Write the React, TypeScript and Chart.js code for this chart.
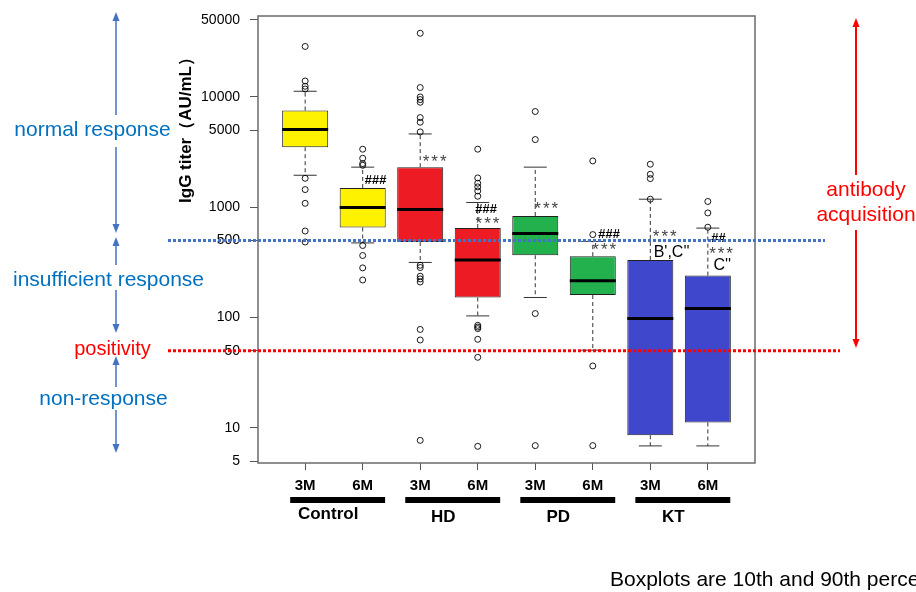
import React, { useEffect, useRef } from "react";
import { Chart, registerables } from "chart.js";

Chart.register(...registerables);

// ---------- data ----------
const timepoints = ["3M", "6M", "3M", "6M", "3M", "6M", "3M", "6M"];
const groups = ["Control", "HD", "PD", "KT"];
const groupColors = ["#FFF200", "#ED1C24", "#22B14C", "#3F48CC"];

const whiskerLow = [1950, 475, 316, 103.5, 152, 50.6, 6.86, 6.86];
const q1 = [3500, 655, 484, 152, 367, 160, 8.57, 11.2];
const medians = [5060, 993, 953, 333, 578, 216, 98, 121];
const q3 = [7530, 1497, 2310, 649, 834, 360, 333, 240];
const whiskerHigh = [11260, 2310, 4620, 1105, 2310, 490, 1183, 647];

const outliers: number[][] = [
  [28700, 13960, 12500, 11800, 1830, 1446, 1086, 609, 484],
  [3360, 2780, 2490, 2400, 450, 365, 282, 219],
  [37800, 12170, 10000, 9470, 8950, 6500, 5900, 4820, 298, 284, 237, 224, 210, 78, 62.6, 7.7],
  [3360, 1845, 1650, 1530, 1405, 1259, 85, 82, 79.4, 63.5, 43.6, 6.8],
  [7380, 4110, 108.7, 6.9],
  [2630, 565, 36.4, 6.9],
  [2455, 1990, 1820, 1183],
  [1128, 888, 659],
];

const yTicks = [5, 10, 50, 100, 500, 1000, 5000, 10000, 50000];
const insufficientThreshold = 500;
const positivityThreshold = 50;

// significance marks: anchored at (category position, titer)
const sigMarks = [
  { x: 2.22, y: 1760, text: "###", kind: "hash" },
  { x: 3.25, y: 2720, text: "***", kind: "star" },
  { x: 4.14, y: 953, text: "###", kind: "hash" },
  { x: 4.17, y: 752, text: "***", kind: "star" },
  { x: 5.19, y: 1028, text: "***", kind: "star" },
  { x: 6.28, y: 565, text: "###", kind: "hash" },
  { x: 6.2, y: 437, text: "***", kind: "star" },
  { x: 7.25, y: 565, text: "***", kind: "star" },
  { x: 7.37, y: 388, text: "B',C''", kind: "letter" },
  { x: 8.18, y: 520, text: "##", kind: "hash" },
  { x: 8.23, y: 399, text: "***", kind: "star" },
  { x: 8.25, y: 298, text: "C''", kind: "letter" },
];

const FONT = "'Liberation Sans', Arial, sans-serif";

const boxColors = timepoints.map((_, i) => groupColors[Math.floor(i / 2)]);

function vArrow(
  ctx: CanvasRenderingContext2D,
  x: number,
  yTop: number,
  yBot: number,
  gap: [number, number],
  color: string,
  lw: number
) {
  const hw = 3.5;
  const hh = 9;
  ctx.save();
  ctx.strokeStyle = color;
  ctx.fillStyle = color;
  ctx.lineWidth = lw;
  ctx.beginPath();
  ctx.moveTo(x, yTop + hh - 1);
  ctx.lineTo(x, gap[0]);
  ctx.moveTo(x, gap[1]);
  ctx.lineTo(x, yBot - hh + 1);
  ctx.stroke();
  ctx.beginPath();
  ctx.moveTo(x, yTop);
  ctx.lineTo(x - hw, yTop + hh);
  ctx.lineTo(x + hw, yTop + hh);
  ctx.closePath();
  ctx.fill();
  ctx.beginPath();
  ctx.moveTo(x, yBot);
  ctx.lineTo(x - hw, yBot - hh);
  ctx.lineTo(x + hw, yBot - hh);
  ctx.closePath();
  ctx.fill();
  ctx.restore();
}

const boxPlugin = {
  id: "boxplotDecor",
  beforeDatasetsDraw(chart: any) {
    const { ctx, scales } = chart;
    const x = scales.x;
    const y = scales.y;
    const meta = chart.getDatasetMeta(0);
    ctx.save();
    for (let i = 0; i < q1.length; i++) {
      const bar = meta.data[i];
      const cx = x.getPixelForValue(i + 1);
      const half = bar.width / 4;
      const yHi = y.getPixelForValue(whiskerHigh[i]);
      const yLo = y.getPixelForValue(whiskerLow[i]);
      const yQ3 = y.getPixelForValue(q3[i]);
      const yQ1 = y.getPixelForValue(q1[i]);
      ctx.strokeStyle = "#333";
      ctx.lineWidth = 1;
      ctx.setLineDash([4, 3]);
      ctx.beginPath();
      ctx.moveTo(cx, yQ3);
      ctx.lineTo(cx, yHi);
      ctx.moveTo(cx, yQ1);
      ctx.lineTo(cx, yLo);
      ctx.stroke();
      ctx.setLineDash([]);
      ctx.beginPath();
      ctx.moveTo(cx - half, yHi);
      ctx.lineTo(cx + half, yHi);
      ctx.moveTo(cx - half, yLo);
      ctx.lineTo(cx + half, yLo);
      ctx.stroke();
    }
    ctx.restore();
  },
  afterDatasetDraw(chart: any, args: any) {
    if (args.index !== 0) return;
    const { ctx, scales } = chart;
    const y = scales.y;
    const meta = chart.getDatasetMeta(0);
    ctx.save();
    ctx.strokeStyle = "#000";
    ctx.lineWidth = 3;
    for (let i = 0; i < medians.length; i++) {
      const bar = meta.data[i];
      const ym = y.getPixelForValue(medians[i]);
      ctx.beginPath();
      ctx.moveTo(bar.x - bar.width / 2, ym);
      ctx.lineTo(bar.x + bar.width / 2, ym);
      ctx.stroke();
    }
    ctx.restore();
  },
  afterDraw(chart: any) {
    const { ctx, chartArea, scales } = chart;
    const x = scales.x;
    const y = scales.y;
    ctx.save();

    // plot frame
    ctx.strokeStyle = "#6b6b6b";
    ctx.lineWidth = 1.5;
    ctx.strokeRect(chartArea.left, chartArea.top, chartArea.right - chartArea.left, chartArea.bottom - chartArea.top);

    // significance marks
    ctx.textAlign = "center";
    ctx.textBaseline = "middle";
    for (const m of sigMarks) {
      const px = x.getPixelForValue(m.x);
      const py = y.getPixelForValue(m.y);
      if (m.kind === "hash") {
        ctx.font = `italic bold 13px ${FONT}`;
        ctx.fillStyle = "#000";
        (ctx as any).letterSpacing = "0px";
        ctx.fillText(m.text, px, py);
      } else if (m.kind === "star") {
        ctx.font = `17px ${FONT}`;
        ctx.fillStyle = "#444";
        (ctx as any).letterSpacing = "2px";
        ctx.fillText(m.text, px + 1, py + 3);
        (ctx as any).letterSpacing = "0px";
      } else {
        ctx.font = `16px ${FONT}`;
        ctx.fillStyle = "#000";
        (ctx as any).letterSpacing = "0px";
        ctx.fillText(m.text, px, py);
      }
    }

    // threshold dotted lines
    ctx.lineWidth = 3;
    ctx.setLineDash([3, 2]);
    const yIns = y.getPixelForValue(insufficientThreshold);
    ctx.strokeStyle = "#4472C4";
    ctx.beginPath();
    ctx.moveTo(168, yIns);
    ctx.lineTo(825, yIns);
    ctx.stroke();
    const yPos = y.getPixelForValue(positivityThreshold);
    ctx.strokeStyle = "#FF0000";
    ctx.beginPath();
    ctx.moveTo(168, yPos);
    ctx.lineTo(840, yPos);
    ctx.stroke();
    ctx.setLineDash([]);

    // left response arrows
    vArrow(ctx, 116, 12, 233, [115, 147], "#4472C4", 1.5);
    vArrow(ctx, 116, 237, 333, [265, 290], "#4472C4", 1.5);
    vArrow(ctx, 116, 356, 453, [387, 410], "#4472C4", 1.5);
    ctx.font = `21px ${FONT}`;
    ctx.textAlign = "center";
    ctx.textBaseline = "middle";
    ctx.fillStyle = "#0070C0";
    ctx.fillText("normal response", 92.5, 130);
    ctx.fillText("insufficient response", 108.5, 280);
    ctx.fillText("non-response", 103.5, 399);
    ctx.fillStyle = "#FF0000";
    ctx.font = `20px ${FONT}`;
    ctx.fillText("positivity", 112.5, 349);

    // right arrow
    vArrow(ctx, 856, 18, 348, [175, 230], "#FF0000", 2);
    ctx.font = `21px ${FONT}`;
    ctx.fillStyle = "#FF0000";
    ctx.fillText("antibody", 866, 190);
    ctx.fillText("acquisition", 866, 215);

    // y title
    ctx.save();
    ctx.translate(186, 126);
    ctx.rotate(-Math.PI / 2);
    ctx.font = `bold 17px ${FONT}`;
    ctx.fillStyle = "#000";
    ctx.fillText("IgG titer（AU/mL）", 0, 0);
    ctx.restore();

    // group bars and labels
    ctx.fillStyle = "#000";
    ctx.font = `bold 17px ${FONT}`;
    groups.forEach((g, k) => {
      const x0 = x.getPixelForValue(2 * k + 1 - 0.26);
      const x1 = x.getPixelForValue(2 * k + 2 + 0.39);
      ctx.fillRect(x0, 497, x1 - x0, 6);
      ctx.fillText(g, x.getPixelForValue(2 * k + 1.4), k === 0 ? 514 : 517);
    });

    // footnote
    ctx.font = `21px ${FONT}`;
    ctx.textAlign = "left";
    ctx.textBaseline = "alphabetic";
    ctx.fillStyle = "#000";
    ctx.fillText("Boxplots are 10th and 90th percentiles", 610, 586);

    ctx.restore();
  },
};

export default function App() {
  const ref = useRef<HTMLCanvasElement>(null);
  useEffect(() => {
    const canvas = ref.current!;
    const chart = new Chart(canvas, {
      type: "bar",
      data: {
        datasets: [
          {
            type: "bar",
            data: q1.map((v, i) => ({ x: i + 1, y: [v, q3[i]] })) as any,
            backgroundColor: boxColors,
            borderColor: "#222",
            borderWidth: 1,
            borderSkipped: false,
            barPercentage: 0.8,
            categoryPercentage: 1.0,
          },
          {
            type: "scatter",
            data: outliers.flatMap((arr, i) => arr.map((v) => ({ x: i + 1, y: v }))),
            pointRadius: 3,
            pointStyle: "circle",
            pointBorderColor: "#000",
            pointBackgroundColor: "rgba(255,255,255,0)",
            pointBorderWidth: 0.9,
            showLine: false,
          } as any,
        ],
      },
      options: {
        animation: false,
        responsive: false,
        devicePixelRatio: 1,
        layout: { padding: { left: 198, right: 161, top: 16, bottom: 89 } },
        plugins: { legend: { display: false }, tooltip: { enabled: false } },
        font: { family: FONT } as any,
        scales: {
          x: {
            type: "linear",
            offset: false,
            min: 0.18,
            max: 8.82,
            afterBuildTicks: (s: any) => {
              s.ticks = timepoints.map((_, i) => ({ value: i + 1 }));
            },
            afterFit: (s: any) => {
              s.height = 40;
              s.paddingLeft = 0;
              s.paddingRight = 0;
            },
            ticks: {
              callback: (v: any) => timepoints[Number(v) - 1] ?? "",
              font: { family: FONT, size: 15, weight: "bold" },
              color: "#000",
              padding: 7,
              maxRotation: 0,
              autoSkip: false,
            },
            grid: { offset: false, drawOnChartArea: false, drawTicks: true, tickLength: 7, color: "#555", lineWidth: 1 },
            border: { display: false },
          },
          y: {
            type: "logarithmic",
            min: 4.8,
            max: 54200,
            afterBuildTicks: (s: any) => {
              s.ticks = yTicks.map((v) => ({ value: v }));
            },
            afterFit: (s: any) => {
              s.width = 60;
              s.paddingTop = 0;
              s.paddingBottom = 0;
            },
            ticks: {
              callback: (v: any) => String(v),
              font: { family: FONT, size: 14 },
              color: "#000",
              padding: 10,
              autoSkip: false,
            },
            grid: { drawOnChartArea: false, drawTicks: true, tickLength: 8, color: "#555", lineWidth: 1 },
            border: { display: false },
          },
        },
      } as any,
      plugins: [boxPlugin],
    });
    return () => chart.destroy();
  }, []);
  return (
    <div style={{ position: "absolute", left: 0, top: 0, width: 916, height: 592, background: "#fff" }}>
      <canvas ref={ref} width={916} height={592} style={{ display: "block", width: 916, height: 592 }} />
    </div>
  );
}
